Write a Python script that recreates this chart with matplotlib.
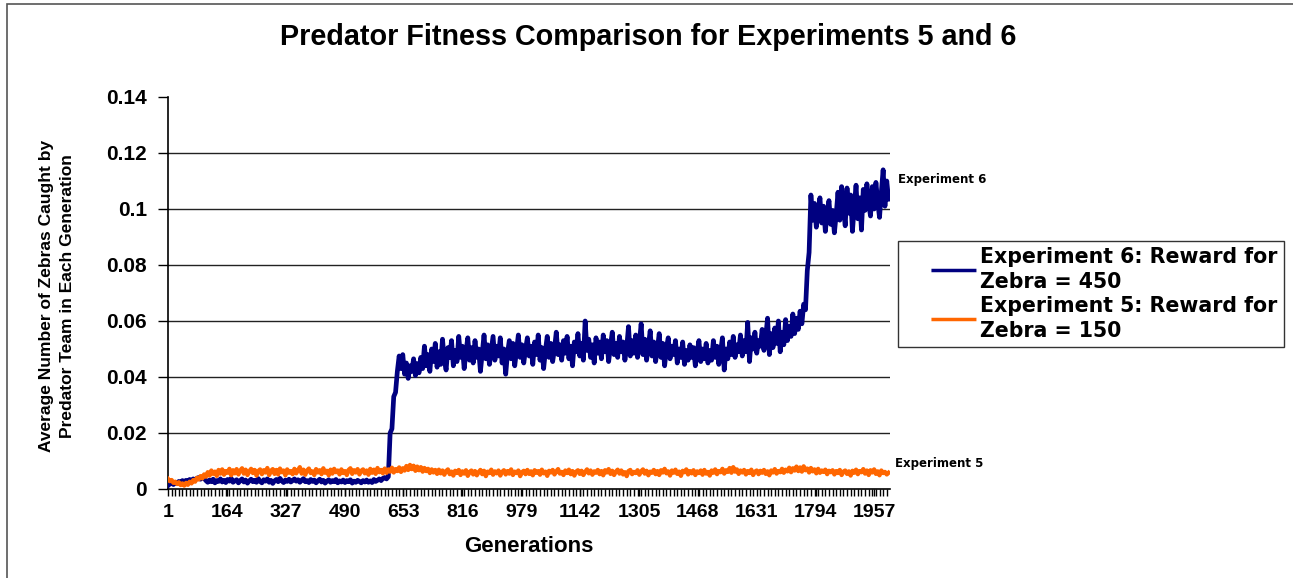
import numpy as np
import matplotlib
matplotlib.use("Agg")
import matplotlib.pyplot as plt
from matplotlib.patches import Rectangle

generations = np.arange(1, 2001, 5)

# Experiment 6: reward for zebra = 450 (navy), 10 samples = 50 generations per row
exp6 = [
    0.0012, 0.0018, 0.0022, 0.0016, 0.0024, 0.0020, 0.0027, 0.0023, 0.0030, 0.0026,
    0.0031, 0.0027, 0.0034, 0.0029, 0.0036, 0.0032, 0.0038, 0.0041, 0.0035, 0.0043,
    0.0038, 0.0030, 0.0024, 0.0032, 0.0026, 0.0035, 0.0022, 0.0030, 0.0027, 0.0036,
    0.0025, 0.0031, 0.0023, 0.0034, 0.0028, 0.0038, 0.0024, 0.0029, 0.0033, 0.0022,
    0.0030, 0.0036, 0.0025, 0.0032, 0.0021, 0.0029, 0.0035, 0.0026, 0.0031, 0.0024,
    0.0037, 0.0027, 0.0022, 0.0033, 0.0028, 0.0036, 0.0024, 0.0031, 0.0020, 0.0029,
    0.0034, 0.0026, 0.0038, 0.0029, 0.0023, 0.0032, 0.0027, 0.0035, 0.0025, 0.0030,
    0.0036, 0.0028, 0.0033, 0.0024, 0.0031, 0.0037, 0.0026, 0.0030, 0.0023, 0.0034,
    0.0027, 0.0032, 0.0022, 0.0029, 0.0035, 0.0025, 0.0031, 0.0021, 0.0028, 0.0033,
    0.0024, 0.0030, 0.0026, 0.0034, 0.0022, 0.0029, 0.0025, 0.0032, 0.0023, 0.0030,
    0.0026, 0.0033, 0.0021, 0.0028, 0.0024, 0.0031, 0.0027, 0.0022, 0.0030, 0.0025,
    0.0032, 0.0024, 0.0029, 0.0023, 0.0034, 0.0027, 0.0031, 0.0036, 0.0030, 0.0038,
    0.0041, 0.0036, 0.0044, 0.0200, 0.0215, 0.0330, 0.0345, 0.0420, 0.0475, 0.0430,
    0.0480, 0.0410, 0.0450, 0.0395, 0.0440, 0.0420, 0.0465, 0.0405, 0.0448, 0.0415,
    0.0470, 0.0430, 0.0510, 0.0440, 0.0480, 0.0420, 0.0500, 0.0455, 0.0520, 0.0435,
    0.0490, 0.0445, 0.0535, 0.0460, 0.0425, 0.0505, 0.0470, 0.0530, 0.0440, 0.0495,
    0.0455, 0.0545, 0.0470, 0.0510, 0.0430, 0.0490, 0.0540, 0.0460, 0.0505, 0.0450,
    0.0530, 0.0470, 0.0500, 0.0420, 0.0485, 0.0550, 0.0465, 0.0515, 0.0445, 0.0495,
    0.0545, 0.0460, 0.0510, 0.0475, 0.0540, 0.0450, 0.0500, 0.0410, 0.0485, 0.0530,
    0.0465, 0.0520, 0.0440, 0.0495, 0.0550, 0.0470, 0.0515, 0.0450, 0.0500, 0.0540,
    0.0475, 0.0510, 0.0445, 0.0525, 0.0480, 0.0550, 0.0460, 0.0505, 0.0430, 0.0495,
    0.0545, 0.0470, 0.0520, 0.0455, 0.0500, 0.0560, 0.0480, 0.0515, 0.0460, 0.0530,
    0.0485, 0.0545, 0.0465, 0.0510, 0.0440, 0.0525, 0.0490, 0.0555, 0.0475, 0.0520,
    0.0460, 0.0600, 0.0495, 0.0535, 0.0470, 0.0515, 0.0450, 0.0540, 0.0485, 0.0525,
    0.0465, 0.0550, 0.0490, 0.0530, 0.0455, 0.0510, 0.0560, 0.0480, 0.0520, 0.0470,
    0.0545, 0.0490, 0.0525, 0.0460, 0.0505, 0.0580, 0.0475, 0.0530, 0.0485, 0.0550,
    0.0470, 0.0520, 0.0590, 0.0480, 0.0535, 0.0460, 0.0510, 0.0565, 0.0475, 0.0525,
    0.0455, 0.0500, 0.0555, 0.0470, 0.0520, 0.0440, 0.0505, 0.0540, 0.0465, 0.0510,
    0.0480, 0.0530, 0.0450, 0.0500, 0.0470, 0.0525, 0.0445, 0.0495, 0.0460, 0.0515,
    0.0470, 0.0505, 0.0440, 0.0490, 0.0530, 0.0455, 0.0500, 0.0465, 0.0520, 0.0450,
    0.0495, 0.0460, 0.0530, 0.0470, 0.0510, 0.0445, 0.0490, 0.0540, 0.0425, 0.0500,
    0.0465, 0.0525, 0.0480, 0.0545, 0.0470, 0.0515, 0.0490, 0.0550, 0.0475, 0.0530,
    0.0490, 0.0595, 0.0455, 0.0540, 0.0500, 0.0560, 0.0485, 0.0530, 0.0510, 0.0570,
    0.0495, 0.0545, 0.0610, 0.0480, 0.0555, 0.0505, 0.0575, 0.0520, 0.0600, 0.0490,
    0.0560, 0.0515, 0.0605, 0.0530, 0.0580, 0.0545, 0.0625, 0.0555, 0.0610, 0.0570,
    0.0635, 0.0590, 0.0660, 0.0640, 0.0780, 0.0845, 0.1050, 0.0960, 0.1020, 0.0935,
    0.0990, 0.1040, 0.0950, 0.1010, 0.0920, 0.0985, 0.1030, 0.0945, 0.0995, 0.0915,
    0.0980, 0.1060, 0.0960, 0.1080, 0.1005, 0.0940, 0.1075, 0.0985, 0.1050, 0.0920,
    0.1010, 0.1085, 0.0965, 0.1040, 0.0925, 0.1070, 0.0995, 0.1090, 0.1020, 0.0975,
    0.1080, 0.1000, 0.1095, 0.1025, 0.0970, 0.1060, 0.1140, 0.1010, 0.1100, 0.1035,
]

# Experiment 5: reward for zebra = 150 (orange)
exp5 = [
    0.0036, 0.0028, 0.0032, 0.0022, 0.0026, 0.0018, 0.0024, 0.0014, 0.0020, 0.0012,
    0.0022, 0.0015, 0.0026, 0.0020, 0.0032, 0.0026, 0.0040, 0.0034, 0.0046, 0.0038,
    0.0052, 0.0044, 0.0060, 0.0048, 0.0066, 0.0054, 0.0062, 0.0047, 0.0068, 0.0055,
    0.0070, 0.0051, 0.0064, 0.0058, 0.0072, 0.0049, 0.0067, 0.0056, 0.0071, 0.0052,
    0.0066, 0.0074, 0.0055, 0.0069, 0.0050, 0.0063, 0.0072, 0.0057, 0.0068, 0.0048,
    0.0064, 0.0070, 0.0053, 0.0067, 0.0059, 0.0075, 0.0050, 0.0065, 0.0071, 0.0054,
    0.0068, 0.0052, 0.0073, 0.0060, 0.0066, 0.0049, 0.0070, 0.0058, 0.0064, 0.0053,
    0.0072, 0.0056, 0.0067, 0.0078, 0.0055, 0.0069, 0.0051, 0.0066, 0.0073, 0.0057,
    0.0063, 0.0050, 0.0071, 0.0059, 0.0067, 0.0053, 0.0074, 0.0058, 0.0065, 0.0049,
    0.0069, 0.0055, 0.0072, 0.0060, 0.0066, 0.0052, 0.0070, 0.0057, 0.0064, 0.0050,
    0.0068, 0.0074, 0.0054, 0.0067, 0.0059, 0.0071, 0.0052, 0.0065, 0.0070, 0.0056,
    0.0066, 0.0051, 0.0072, 0.0058, 0.0069, 0.0054, 0.0075, 0.0060, 0.0068, 0.0056,
    0.0073, 0.0058, 0.0070, 0.0062, 0.0076, 0.0059, 0.0071, 0.0064, 0.0077, 0.0061,
    0.0074, 0.0066, 0.0082, 0.0068, 0.0086, 0.0071, 0.0083, 0.0065, 0.0080, 0.0067,
    0.0078, 0.0062, 0.0075, 0.0064, 0.0072, 0.0057, 0.0070, 0.0059, 0.0068, 0.0054,
    0.0069, 0.0056, 0.0066, 0.0051, 0.0064, 0.0070, 0.0053, 0.0062, 0.0048, 0.0065,
    0.0057, 0.0068, 0.0050, 0.0063, 0.0055, 0.0067, 0.0047, 0.0061, 0.0066, 0.0052,
    0.0064, 0.0049, 0.0060, 0.0068, 0.0053, 0.0065, 0.0046, 0.0062, 0.0057, 0.0069,
    0.0051, 0.0063, 0.0056, 0.0066, 0.0048, 0.0061, 0.0067, 0.0052, 0.0064, 0.0055,
    0.0070, 0.0050, 0.0062, 0.0057, 0.0066, 0.0046, 0.0060, 0.0065, 0.0053, 0.0068,
    0.0054, 0.0063, 0.0049, 0.0067, 0.0058, 0.0064, 0.0051, 0.0069, 0.0056, 0.0062,
    0.0047, 0.0065, 0.0059, 0.0068, 0.0052, 0.0063, 0.0071, 0.0055, 0.0061, 0.0050,
    0.0066, 0.0057, 0.0069, 0.0053, 0.0064, 0.0048, 0.0062, 0.0067, 0.0054, 0.0065,
    0.0050, 0.0061, 0.0070, 0.0056, 0.0066, 0.0051, 0.0063, 0.0058, 0.0068, 0.0053,
    0.0064, 0.0049, 0.0067, 0.0059, 0.0071, 0.0054, 0.0065, 0.0050, 0.0062, 0.0069,
    0.0055, 0.0066, 0.0052, 0.0060, 0.0046, 0.0064, 0.0068, 0.0053, 0.0061, 0.0057,
    0.0067, 0.0051, 0.0063, 0.0070, 0.0055, 0.0065, 0.0049, 0.0062, 0.0058, 0.0068,
    0.0053, 0.0064, 0.0050, 0.0067, 0.0059, 0.0072, 0.0056, 0.0063, 0.0048, 0.0066,
    0.0058, 0.0069, 0.0054, 0.0062, 0.0047, 0.0065, 0.0060, 0.0070, 0.0052, 0.0064,
    0.0056, 0.0067, 0.0050, 0.0063, 0.0057, 0.0066, 0.0051, 0.0068, 0.0055, 0.0061,
    0.0048, 0.0066, 0.0058, 0.0070, 0.0053, 0.0064, 0.0060, 0.0072, 0.0055, 0.0067,
    0.0061, 0.0075, 0.0058, 0.0078, 0.0062, 0.0070, 0.0054, 0.0066, 0.0059, 0.0068,
    0.0052, 0.0064, 0.0057, 0.0069, 0.0050, 0.0062, 0.0066, 0.0053, 0.0065, 0.0058,
    0.0068, 0.0054, 0.0063, 0.0049, 0.0066, 0.0059, 0.0071, 0.0055, 0.0064, 0.0060,
    0.0072, 0.0058, 0.0069, 0.0063, 0.0076, 0.0060, 0.0074, 0.0066, 0.0080, 0.0064,
    0.0077, 0.0062, 0.0081, 0.0067, 0.0073, 0.0059, 0.0075, 0.0063, 0.0070, 0.0056,
    0.0072, 0.0058, 0.0066, 0.0061, 0.0069, 0.0053, 0.0065, 0.0060, 0.0067, 0.0052,
    0.0064, 0.0057, 0.0068, 0.0050, 0.0062, 0.0066, 0.0054, 0.0063, 0.0048, 0.0065,
    0.0058, 0.0069, 0.0053, 0.0064, 0.0060, 0.0071, 0.0055, 0.0066, 0.0050, 0.0067,
    0.0059, 0.0070, 0.0054, 0.0063, 0.0049, 0.0066, 0.0057, 0.0061, 0.0052, 0.0058,
]

label_gens = [1, 164, 327, 490, 653, 816, 979, 1142, 1305, 1468, 1631, 1794, 1957]
y_ticks = [0, 0.02, 0.04, 0.06, 0.08, 0.1, 0.12, 0.14]
y_tick_labels = ["0", "0.02", "0.04", "0.06", "0.08", "0.1", "0.12", "0.14"]

NAVY = "#000080"
ORANGE = "#FF6600"
W, H = 1293, 578

plt.rcParams["font.family"] = ["Liberation Sans", "DejaVu Sans"]
plt.rcParams["font.weight"] = "bold"

fig = plt.figure(figsize=(W / 100, H / 100), dpi=100)
ax = fig.add_axes([168 / W, 1 - 489 / H, 722 / W, 392 / H])

ax.plot(generations, exp6, color=NAVY, lw=3.4, zorder=3,
        label="Experiment 6: Reward for\nZebra = 450")
ax.plot(generations, exp5, color=ORANGE, lw=3.1, zorder=4,
        label="Experiment 5: Reward for\nZebra = 150")

ax.set_xlim(1, 2000)
ax.set_ylim(0, 0.14)

# gridlines at every y tick except the top one
for y in y_ticks[1:-1]:
    ax.axhline(y, color="#222222", lw=1.0, zorder=1)

ax.set_yticks(y_ticks)
ax.set_yticklabels(y_tick_labels, fontsize=15, fontweight="bold")
ax.set_xticks(label_gens)
ax.set_xticklabels([str(g) for g in label_gens], fontsize=14, fontweight="bold")
ax.set_xticks(np.arange(1, 2001, 10), minor=True)
ax.tick_params(axis="y", direction="out", length=7, width=1, pad=8)
ax.tick_params(axis="x", which="both", direction="out", length=5, width=1, pad=6)

for side in ["top", "right"]:
    ax.spines[side].set_visible(False)
for side in ["left", "bottom"]:
    ax.spines[side].set_color("black")
    ax.spines[side].set_linewidth(1.2)

fig.text(648 / W, 1 - 37 / H, "Predator Fitness Comparison for Experiments 5 and 6",
         ha="center", va="center", fontsize=20.7, fontweight="bold")
fig.text(529 / W, 1 - 546 / H, "Generations", ha="center", va="center",
         fontsize=16, fontweight="bold")
fig.text(57 / W, 1 - 296 / H,
         "Average Number of Zebras Caught by\nPredator Team in Each Generation",
         ha="center", va="center", rotation=90, fontsize=12.5, fontweight="bold",
         linespacing=1.45)

fig.text(898 / W, 1 - 180 / H, "Experiment 6", ha="left", va="center",
         fontsize=8.5, fontweight="bold", family="DejaVu Sans")
fig.text(895 / W, 1 - 464 / H, "Experiment 5", ha="left", va="center",
         fontsize=8.5, fontweight="bold", family="DejaVu Sans")

leg_size = 14.8
leg = ax.legend(loc="upper left", bbox_to_anchor=(898 / W, 1 - 241 / H),
                bbox_transform=fig.transFigure, frameon=True, fancybox=False,
                edgecolor="black", handlelength=3.5, handletextpad=0.2,
                borderpad=0.3, labelspacing=0.2, borderaxespad=0,
                prop={"family": "DejaVu Sans", "weight": "bold", "size": leg_size})
leg.get_frame().set_linewidth(1.0)
for t in leg.get_texts():
    t.set_linespacing(1.3)
# legend sample lines sit on the right part of the handle area (gap, then line)
leg_lw = 2.5
for line in leg.get_lines():
    line.set_linewidth(leg_lw)
    on = 32.4 / leg_lw
    off = 19.4 / leg_lw
    line.set_linestyle((on, (on, off)))

# thin frame around the chart area
fig.add_artist(Rectangle((7 / W, -0.05), 1.2, 1 - 4 / H + 0.05,
                         transform=fig.transFigure, fill=False,
                         edgecolor="#555555", lw=1.2, clip_on=False))

fig.savefig("out.png", dpi=100)
